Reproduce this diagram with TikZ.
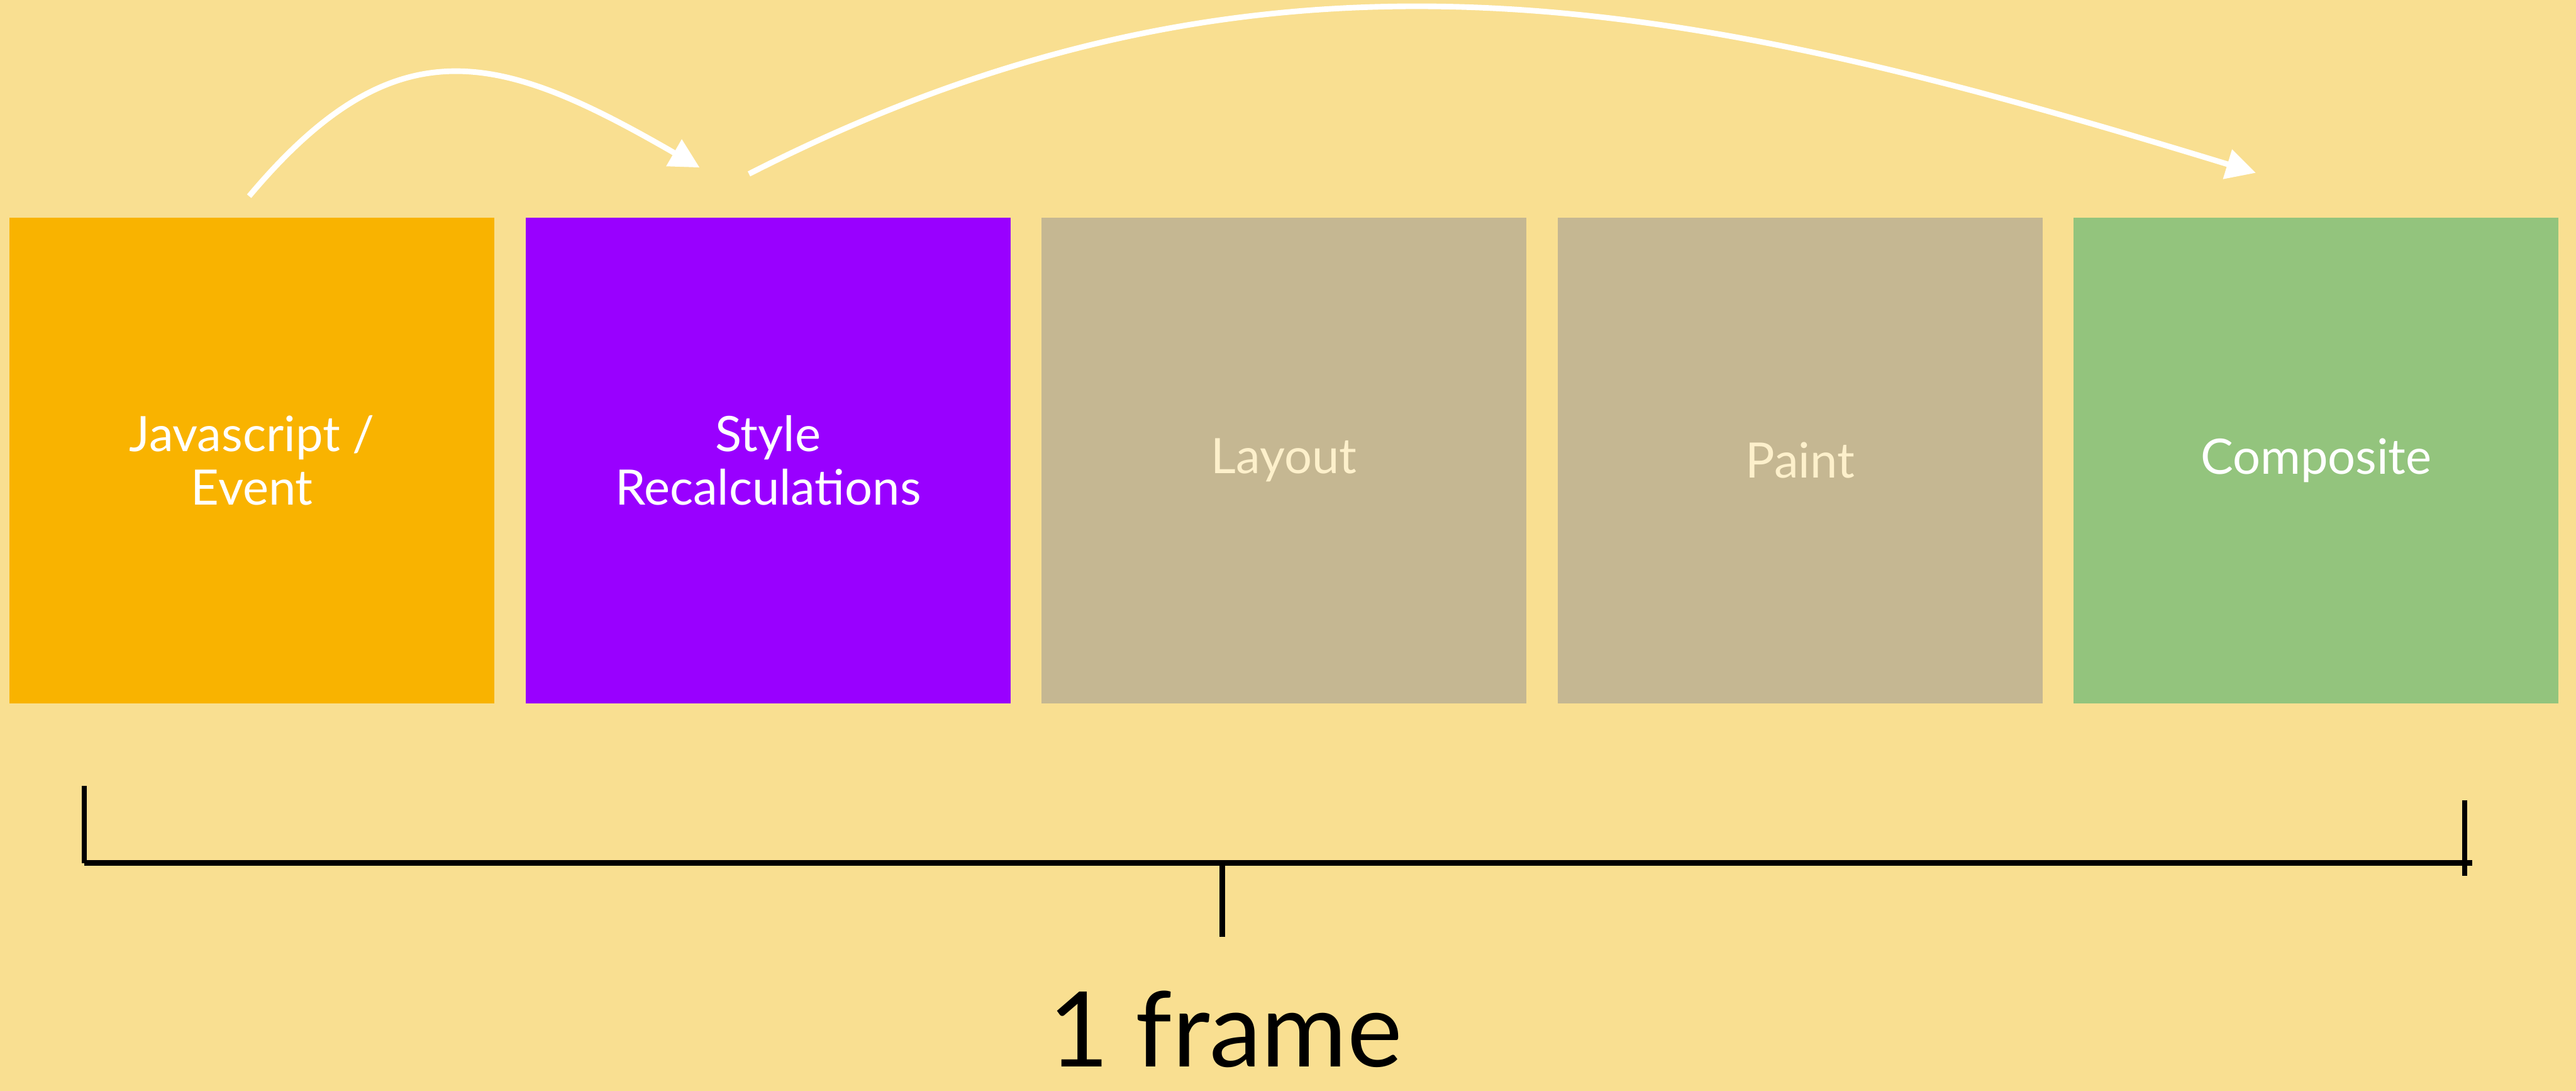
\documentclass[tikz,border=0pt]{standalone}
\usepackage{fontspec}
\setmainfont{Lato}
\usetikzlibrary{arrows.meta}
\definecolor{bgyellow}{RGB}{249,223,145}
\definecolor{jsorange}{RGB}{249,179,0}
\definecolor{stylepurple}{RGB}{153,0,255}
\definecolor{greybeige}{RGB}{197,183,146}
\definecolor{compgreen}{RGB}{147,196,125}
\definecolor{cream}{RGB}{253,240,203}

\begin{document}
\begin{tikzpicture}[
	stage/.style={rectangle, inner sep=0, minimum width=9.15cm, minimum height=9.16cm, align=center, font=\fontsize{26.2}{28.6}\selectfont},
	flow/.style={white, line width=3pt, -{Triangle[width=0.56cm,length=0.56cm]}},
	tick/.style={black, line width=2.85pt}]
	\fill[bgyellow] (0,0) rectangle (48.60,20.57);
	\useasboundingbox (0,0) rectangle (48.60,20.57);

	\node[stage, fill=jsorange, text=white](js) at (4.755,11.89) {Javascript /\\Event};
	\node[stage, fill=stylepurple, text=white](style) at (14.49,11.89) {Style\\Recalculations};
	\node[stage, fill=greybeige, text=cream](layout) at (24.225,11.89) {Layout};
	\node[stage, fill=greybeige, text=cream](paint) at (33.96,11.89) {Paint};
	\node[stage, fill=compgreen, text=white](comp) at (43.695,11.89) {Composite};

	\coordinate (js1) at (4.70,16.87);
	\coordinate (style1) at (13.20,17.41);
	\coordinate (style2) at (14.13,17.29);
	\coordinate (comp1) at (42.56,17.31);

	\draw[flow](js1) to[out=50, in=150, looseness=1.3] (style1);
	\draw[flow](style2) to[out=27, in=163] (comp1);

	\coordinate (b1) at (1.59,5.75);
	\coordinate (b2) at (1.59,4.295);
	\coordinate (b3) at (46.64,4.295);
	\coordinate (b4) at (46.50,5.48);
	\coordinate (b5) at (46.50,4.05);
	\coordinate (m1) at (23.06,4.295);
	\coordinate (m2) at (23.06,2.90);

	\draw[tick](b1) -- (b2);
	\draw[tick](b2) -- (b3);
	\draw[tick](b4) -- (b5);
	\draw[tick](m1) -- (m2);

	\node[anchor=base, inner sep=0, font=\fontsize{56}{64}\selectfont](frame) at (23.12,0.45) {1 frame};
\end{tikzpicture}
\end{document}
